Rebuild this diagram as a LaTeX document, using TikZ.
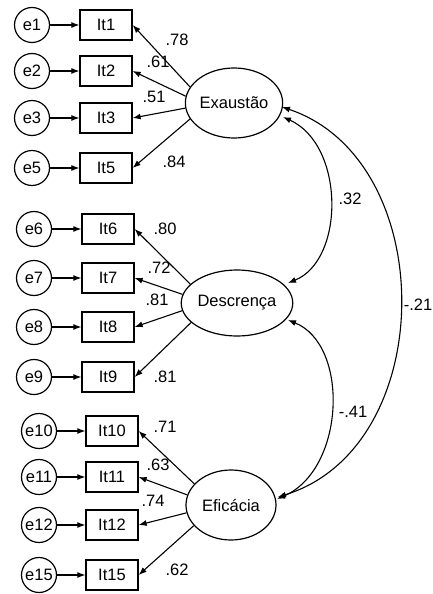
\documentclass[tikz,border=0pt]{standalone}
\usepackage{fontspec}
\setmainfont{Liberation Sans}
\usetikzlibrary{arrows.meta,shapes.geometric}
\begin{document}
\begin{tikzpicture}[x=1pt,y=-1pt,
  font=\fontsize{16.5}{18}\selectfont,
  every node/.style={inner sep=0pt},
  err/.style={draw,circle,minimum size=35pt,line width=1.2pt},
  item/.style={draw,rectangle,minimum width=52pt,minimum height=30pt,line width=1.3pt},
  lat/.style={draw,ellipse,line width=1.2pt},
  arr/.style={line width=1.1pt,-{Latex[length=8pt,width=6pt]}},
  dbl/.style={line width=1.1pt,{Latex[length=8pt,width=6pt]}-{Latex[length=8pt,width=6pt]}}]
\useasboundingbox (0,0) rectangle (433,594);
% latent variables
\node[lat,minimum width=88pt,minimum height=70pt] (exa) at (234,103) {Exaustão};
\node[lat,minimum width=100pt,minimum height=66pt] (des) at (237,303) {Descrença};
\node[lat,minimum width=90pt,minimum height=70pt] (efi) at (231,505) {Eficácia};
% group 1
\node[err] (e1) at (32,25) {e1};
\node[err] (e2) at (32,71) {e2};
\node[err] (e3) at (32,118) {e3};
\node[err] (e5) at (32,168) {e5};
\node[item] (i1) at (106,25) {It1};
\node[item] (i2) at (106,71) {It2};
\node[item] (i3) at (106,118) {It3};
\node[item] (i5) at (106,168) {It5};
% group 2
\node[err] (e6) at (34,229) {e6};
\node[err] (e7) at (34,278) {e7};
\node[err] (e8) at (34,327) {e8};
\node[err] (e9) at (34,377) {e9};
\node[item] (i6) at (108,229) {It6};
\node[item] (i7) at (108,278) {It7};
\node[item] (i8) at (108,327) {It8};
\node[item] (i9) at (108,377) {It9};
% group 3
\node[err] (e10) at (39,431) {e10};
\node[err] (e11) at (39,477) {e11};
\node[err] (e12) at (39,525) {e12};
\node[err] (e15) at (39,575) {e15};
\node[item] (i10) at (112,431) {It10};
\node[item] (i11) at (112,477) {It11};
\node[item] (i12) at (112,525) {It12};
\node[item] (i15) at (112,575) {It15};
% error arrows
\foreach \e/\i in {e1/i1,e2/i2,e3/i3,e5/i5,e6/i6,e7/i7,e8/i8,e9/i9,e10/i10,e11/i11,e12/i12,e15/i15}
  \draw[arr] (\e) -- (\i);
% loadings
\draw[arr] (exa.160) -- (i1.east);
\draw[arr] (exa.172) -- (i2.east);
\draw[arr] (exa.186) -- (i3.east);
\draw[arr] (exa.200) -- (i5.east);
\draw[arr] (des.158) -- (i6.east);
\draw[arr] (des.171) -- (i7.east);
\draw[arr] (des.188) -- (i8.east);
\draw[arr] (des.203) -- (i9.east);
\draw[arr] (efi.150) -- (i10.east);
\draw[arr] (efi.167) -- (i11.east);
\draw[arr] (efi.190) -- (i12.east);
\draw[arr] (efi.209) -- (i15.east);
% loading labels
\node at (177,40) {.78};
\node at (158,62) {.61};
\node at (154,97) {.51};
\node at (174,162) {.84};
\node at (165,229) {.80};
\node at (159,268) {.72};
\node at (157,300) {.81};
\node at (165,377) {.81};
\node at (165,427) {.71};
\node at (158,465) {.63};
\node at (153,501) {.74};
\node at (177,570) {.62};
% covariances
\coordinate (exaA) at (282,107);
\coordinate (exaB) at (283,117);
\coordinate (desA) at (288,283);
\coordinate (desB) at (288,320);
\coordinate (efiA) at (278,497);
\coordinate (efiB) at (277,499);
\draw[dbl] (exaB) .. controls (345,145) and (345,260) .. (desA);
\draw[dbl] (desB) .. controls (350,345) and (345,470) .. (efiB);
\draw[dbl] (exaA) .. controls (440,160) and (440,447) .. (efiA);
\node at (350,199) {.32};
\node at (353,412) {-.41};
\node at (418,305) {-.21};
\end{tikzpicture}
\end{document}
